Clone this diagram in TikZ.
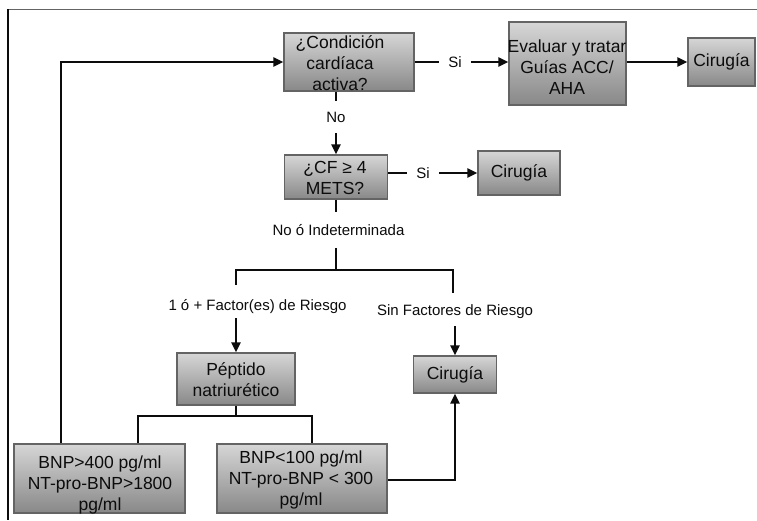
\documentclass[tikz,border=0pt]{standalone}
\usepackage{fontspec}
\setmainfont{Liberation Sans}
\usetikzlibrary{arrows.meta}
\definecolor{boxtop}{RGB}{214,214,214}
\definecolor{boxbot}{RGB}{136,136,136}
\definecolor{boxline}{RGB}{100,100,100}
\definecolor{inkc}{RGB}{12,12,12}
\begin{document}
\begin{tikzpicture}[x=1pt,y=-1pt,
  box/.style={draw=boxline, line width=1.2pt, shading=axis, top color=boxtop, bottom color=boxbot, inner sep=0pt},
  btxt/.style={align=center, font=\fontsize{17.5}{21}\selectfont, inner sep=0pt, text=inkc},
  lbl/.style={font=\fontsize{15}{18}\selectfont, inner sep=0pt, text=inkc},
  conn/.style={line width=2.7pt, draw=inkc},
  arr/.style={conn, -{Triangle[length=10pt,width=9pt]}},
]
\useasboundingbox (0,0) rectangle (757,520);
\fill[white] (0,0) rectangle (757,520);
% frame
\draw[line width=1.5pt, draw={rgb,255:red,100;green,100;blue,100}] (8,9.5) -- (757,9.5);
\draw[line width=1.5pt, draw=inkc] (8,9) -- (8,520);

% boxes
\node[box, minimum width=130pt, minimum height=58pt] (c1) at (349,62) {};
\node[box, minimum width=117pt, minimum height=83pt] (ev) at (567.5,63.5) {};
\node[box, minimum width=67pt, minimum height=48pt] (cir1) at (721.5,62) {};
\node[box, minimum width=103pt, minimum height=44pt] (cf) at (336,177) {};
\node[box, minimum width=82pt, minimum height=44pt] (cir2) at (519,173) {};
\node[box, minimum width=118pt, minimum height=52pt] (pep) at (236,379) {};
\node[box, minimum width=83pt, minimum height=37pt] (cir3) at (455,374.5) {};
\node[box, minimum width=171pt, minimum height=69pt] (bnp1) at (99.5,478.5) {};
\node[box, minimum width=170pt, minimum height=69pt] (bnp2) at (302,478.5) {};

% box texts
\node[btxt] (c1t) at (340,63) {¿Condición\\cardíaca\\activa?};
\node[btxt] (evt) at (567,67) {Evaluar y tratar\\Guías ACC/\\AHA};
\node[btxt] (cir1t) at (721.5,62) {Cirugía};
\node[btxt] (cft) at (335,178) {¿CF ≥ 4\\METS?};
\node[btxt] (cir2t) at (519,173) {Cirugía};
\node[btxt] (pept) at (236,380) {Péptido\\natriurético};
\node[btxt] (cir3t) at (455,374.5) {Cirugía};
\node[btxt] (bnp1t) at (100,484.5) {BNP>400 pg/ml\\NT-pro-BNP>1800\\pg/ml};
\node[btxt] (bnp2t) at (301,479.5) {BNP<100 pg/ml\\NT-pro-BNP < 300\\pg/ml};

% labels
\node[lbl, inner xsep=9pt] (si1) at (455,62) {Si};
\node[lbl, inner ysep=11pt] (no1) at (336,117) {No};
\node[lbl, inner xsep=9pt] (si2) at (423,173) {Si};
\node[lbl, inner ysep=12pt] (nind) at (338.5,230) {No ó Indeterminada};
\node[lbl] (rf) at (257.5,307) {1 ó + Factor(es) de Riesgo};
\node[lbl] (sf) at (455,312) {Sin Factores de Riesgo};

% helper coordinates
\coordinate (lp) at (61,62);
\coordinate (j0) at (336,270);
\coordinate (jl) at (236,270);
\coordinate (jr) at (453,270);
\coordinate (rfa) at (236,285);
\coordinate (rfb) at (236,318);
\coordinate (sfa) at (453,293);
\coordinate (sfb) at (455,326);
\coordinate (pj) at (236,416);
\coordinate (pjl) at (138,416);
\coordinate (pjr) at (312,416);
\coordinate (bc) at (455,480);

% connectors
\draw[conn] (c1.east |- si1) -- (si1.west);
\draw[arr] (si1.east) -- (si1.east -| ev.west);
\draw[arr] (ev.east |- cir1.west) -- (cir1.west);
\draw[conn] (c1.south -| no1) -- (no1.north);
\draw[arr] (no1.south) -- (cf.north);
\draw[conn] (cf.east |- si2) -- (si2.west);
\draw[arr] (si2.east) -- (si2.east -| cir2.west);
\draw[conn] (cf.south) -- (cf.south |- nind.north);
\draw[conn] (cf.south |- nind.south) -- (j0);
\draw[conn] (rfa) -- (jl) -- (jr) -- (sfa);
\draw[arr] (rfb) -- (pep.north);
\draw[arr] (sfb) -- (cir3.north);
\draw[conn] (pep.south) -- (pj);
\draw[conn] (pjl |- bnp1.north) -- (pjl) -- (pjr) -- (pjr |- bnp2.north);
\draw[arr] (lp |- bnp1.north) -- (lp) -- (c1.west);
\draw[arr] (bnp2.east |- bc) -- (bc) -- (cir3.south);
\end{tikzpicture}
\end{document}
